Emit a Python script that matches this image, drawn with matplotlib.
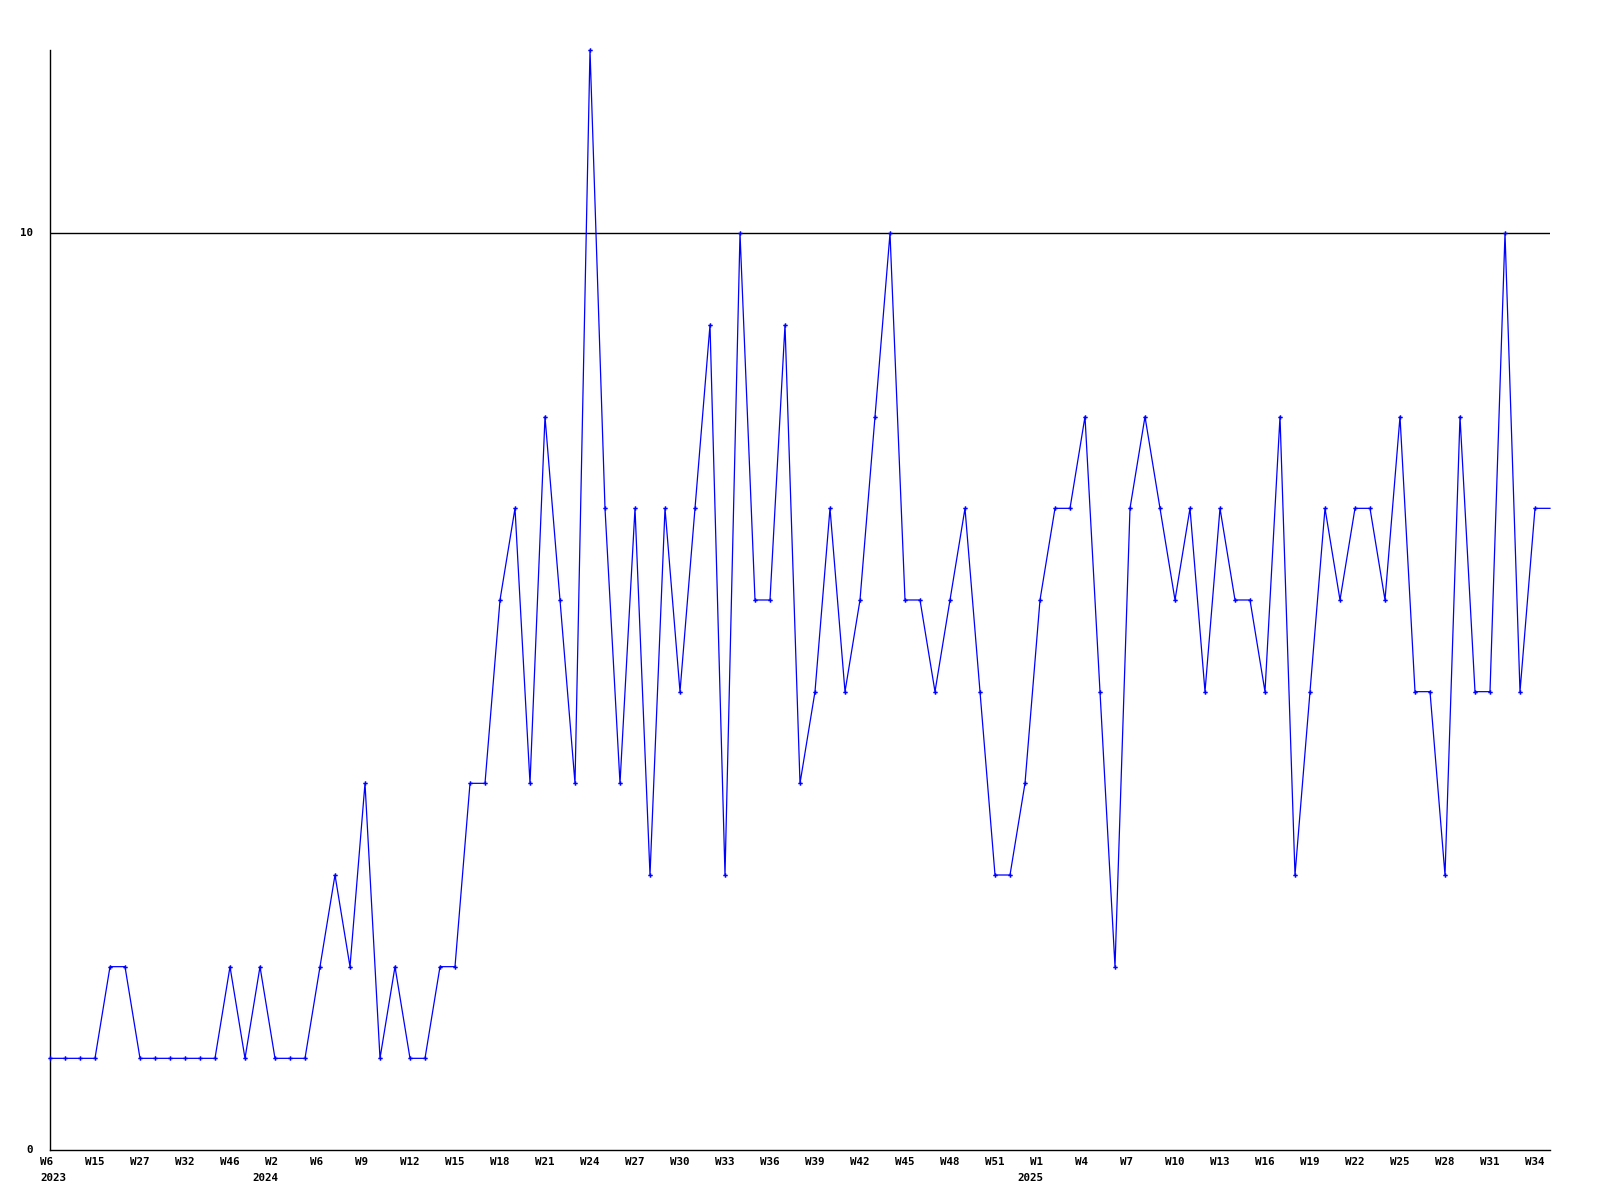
import matplotlib
matplotlib.use("Agg")
import matplotlib.pyplot as plt
import matplotlib.transforms as mtransforms

# weekly counts (last value only extends the line to the right edge)
values = [1, 1, 1, 1, 2, 2, 1, 1, 1, 1,
          1, 1, 2, 1, 2, 1, 1, 1, 2, 3,
          2, 4, 1, 2, 1, 1, 2, 2, 4, 4,
          6, 7, 4, 8, 6, 4, 12, 7, 4, 7,
          3, 7, 5, 7, 9, 3, 10, 6, 6, 9,
          4, 5, 7, 5, 6, 8, 10, 6, 6, 5,
          6, 7, 5, 3, 3, 4, 6, 7, 7, 8,
          5, 2, 7, 8, 7, 6, 7, 5, 7, 6,
          6, 5, 8, 3, 5, 7, 6, 7, 7, 6,
          8, 5, 5, 3, 8, 5, 5, 10, 5, 7,
          7]

tick_idx = list(range(0, 100, 3))
tick_labels = ["W6", "W15", "W27", "W32", "W46", "W2", "W6", "W9", "W12", "W15",
               "W18", "W21", "W24", "W27", "W30", "W33", "W36", "W39", "W42", "W45",
               "W48", "W51", "W1", "W4", "W7", "W10", "W13", "W16", "W19", "W22",
               "W25", "W28", "W31", "W34"]
year_idx = [0, 15, 66]
year_labels = ["2023", "2024", "2025"]
ref_line = 10
y_ticks = [0, 10]

fig = plt.figure(figsize=(16, 12), dpi=100)
ax = fig.add_axes([50/1600, 50/1200, 1500/1600, 1100/1200])

x = list(range(len(values)))
ax.plot(x, values, color="#0000ff", lw=0.9, marker="P", markersize=3.2,
        markeredgewidth=0, markevery=list(range(len(values) - 1)),
        zorder=3, clip_on=False)
ax.axhline(ref_line, color="black", lw=1.0, zorder=2)

ax.set_xlim(0, len(values) - 1)
ax.set_ylim(0, 12)
for s in ["top", "right"]:
    ax.spines[s].set_visible(False)
for s in ["left", "bottom"]:
    ax.spines[s].set_linewidth(1.0)
    ax.spines[s].set_color("black")

ax.set_xticks([])
ax.set_yticks([])

font = dict(family="DejaVu Sans Mono", fontsize=7.8, fontweight="bold", color="black")

for yv in y_ticks:
    off = mtransforms.ScaledTranslation(-17/100, 0, fig.dpi_scale_trans)
    ax.text(0, yv, str(yv), transform=ax.get_yaxis_transform() + off,
            ha="right", va="center", **font)

xt = ax.get_xaxis_transform()
for i, lab in zip(tick_idx, tick_labels):
    off = mtransforms.ScaledTranslation(-10/100, -7/100, fig.dpi_scale_trans)
    ax.text(i, 0, lab, transform=xt + off, ha="left", va="top", **font)

for i, lab in zip(year_idx, year_labels):
    lbl = tick_labels[tick_idx.index(i)]
    if i == 0:
        off = mtransforms.ScaledTranslation(-10/100, -23/100, fig.dpi_scale_trans)
        ax.text(i, 0, lab, transform=xt + off, ha="left", va="top", **font)
    else:
        w = len(lbl) * 6.7 - 10
        off = mtransforms.ScaledTranslation(w/100, -23/100, fig.dpi_scale_trans)
        ax.text(i, 0, lab, transform=xt + off, ha="right", va="top", **font)

fig.savefig("out.png", dpi=100)
